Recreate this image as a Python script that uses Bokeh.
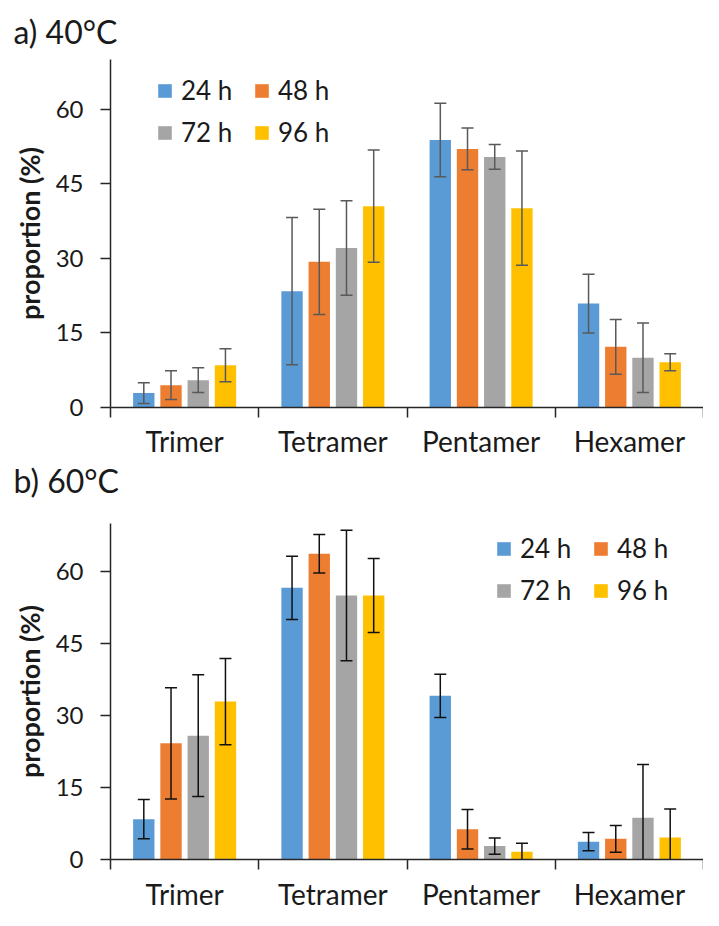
from bokeh.plotting import figure
from bokeh.models import Range1d, FixedTicker, Legend, LegendItem, Title, ColumnDataSource
from bokeh.layouts import column
from bokeh.embed import file_html
from bokeh.resources import INLINE

categories = ["Trimer", "Tetramer", "Pentamer", "Hexamer"]
series = ["24 h", "48 h", "72 h", "96 h"]
colors = ["#5B9BD5", "#ED7D31", "#A5A5A5", "#FFC000"]
y_ticks = [0, 15, 30, 45, 60]
titles = ["a) 40°C", "b) 60°C"]

# a) 40 °C
a_24 = [2.9, 23.4, 53.8, 20.9]
a_48 = [4.5, 29.3, 52.0, 12.2]
a_72 = [5.5, 32.1, 50.4, 10.0]
a_96 = [8.5, 40.5, 40.1, 9.1]
a_err_24 = [2.1, 14.8, 7.4, 5.9]
a_err_48 = [2.9, 10.6, 4.2, 5.5]
a_err_72 = [2.5, 9.5, 2.5, 7.0]
a_err_96 = [3.3, 11.3, 11.5, 1.7]

# b) 60 °C
b_24 = [8.4, 56.6, 34.1, 3.7]
b_48 = [24.2, 63.7, 6.3, 4.3]
b_72 = [25.8, 55.0, 2.8, 8.7]
b_96 = [32.9, 55.0, 1.6, 4.6]
b_err_24 = [4.1, 6.6, 4.5, 1.9]
b_err_48 = [11.6, 4.0, 4.1, 2.8]
b_err_72 = [12.7, 13.6, 1.7, 11.1]
b_err_96 = [9.0, 7.7, 1.8, 5.9]

FONT = "Lato"
TXT = "#1a1a1a"
LEFT = 110
FRAME_W = 593
Y_MAX = 70


def title_model(text, standoff, valign):
    return Title(text=text, align="left", offset=13 - LEFT, standoff=standoff,
                 vertical_align=valign, text_font=FONT, text_font_size="32px",
                 text_font_style="normal", text_color=TXT)


def make_chart(vals, errs, err_color, legend_x, legend_top, border_top,
               frame_h, border_bottom, label_standoff):
    p = figure(frame_width=FRAME_W, frame_height=frame_h, output_backend="svg",
               toolbar_location=None, x_range=Range1d(0, 4), y_range=Range1d(0, Y_MAX),
               min_border_left=LEFT, min_border_right=0, min_border_top=border_top,
               min_border_bottom=border_bottom)
    p.outline_line_color = None
    p.grid.visible = False
    p.background_fill_color = "white"
    p.title = None

    n = len(series)
    step = 0.1836
    bw = 0.144
    items = []
    for j, (s, c) in enumerate(zip(series, colors)):
        off = (j - (n - 1) / 2) * step
        xs = [i + 0.5 + off for i in range(len(categories))]
        v = vals[j]
        e = errs[j]
        src = ColumnDataSource(dict(x=xs, top=v, hi=[a + b for a, b in zip(v, e)],
                                    lo=[a - b for a, b in zip(v, e)]))
        r = p.vbar(x="x", top="top", bottom=0, width=bw, source=src,
                   fill_color=c, line_color=None)
        items.append(LegendItem(label=s, renderers=[r]))
        p.segment(x0="x", y0="lo", x1="x", y1="hi", source=src,
                  line_color=err_color, line_width=1.5)
        p.scatter(x="x", y="hi", source=src, marker="dash", size=12,
                  line_color=err_color, line_width=1.5)
        p.scatter(x="x", y="lo", source=src, marker="dash", size=12,
                  line_color=err_color, line_width=1.5)

    legend_h = 2 * 29 + 10
    legend = Legend(items=items, orientation="horizontal", ncols=2,
                    location=(legend_x, frame_h - legend_top - legend_h),
                    glyph_width=17, glyph_height=17, label_height=29, label_width=62,
                    label_standoff=8, spacing=10, padding=0, margin=0,
                    border_line_alpha=0, background_fill_alpha=0,
                    label_text_font=FONT, label_text_font_size="26px",
                    label_text_color=TXT)
    p.add_layout(legend)

    xa = p.xaxis[0]
    xa.ticker = FixedTicker(ticks=[i + 0.5 for i in range(len(categories))],
                            minor_ticks=list(range(len(categories) + 1)))
    xa.major_label_overrides = {i + 0.5: c for i, c in enumerate(categories)}
    xa.major_tick_out = 0
    xa.major_tick_in = 0
    xa.minor_tick_out = 10
    xa.minor_tick_in = 0
    xa.minor_tick_line_color = "#262626"
    xa.minor_tick_line_width = 1.5
    xa.axis_line_color = "#262626"
    xa.axis_line_width = 1.5
    xa.major_label_standoff = label_standoff
    xa.major_label_text_font = FONT
    xa.major_label_text_font_size = "28px"
    xa.major_label_text_color = TXT

    ya = p.yaxis[0]
    ya.ticker = FixedTicker(ticks=y_ticks, minor_ticks=[])
    ya.major_tick_out = 10
    ya.major_tick_in = 0
    ya.major_tick_line_color = "#262626"
    ya.major_tick_line_width = 1.5
    ya.axis_line_color = "#262626"
    ya.axis_line_width = 1.5
    ya.major_label_standoff = 17
    ya.major_label_text_font = FONT
    ya.major_label_text_font_size = "24px"
    ya.major_label_text_color = TXT
    ya.axis_label = "proportion (%)"
    ya.axis_label_text_font = FONT
    ya.axis_label_text_font_style = "bold"
    ya.axis_label_text_font_size = "27px"
    ya.axis_label_text_color = TXT
    ya.axis_label_standoff = 7
    return p


p1 = make_chart([a_24, a_48, a_72, a_96],
                [a_err_24, a_err_48, a_err_72, a_err_96], "#595959",
                46, 21, 0, 348, 0, 6)
p1.add_layout(title_model(titles[0], 18, "bottom"), "above")
p1.add_layout(title_model(titles[1], 0, "top"), "below")

p2 = make_chart([b_24, b_48, b_72, b_96],
                [b_err_24, b_err_48, b_err_72, b_err_96], "#111111",
                385, 15, 22, 336, 52, 7)

layout = column(p1, p2, spacing=0)
open("out.html", "w").write(file_html(layout, INLINE))
